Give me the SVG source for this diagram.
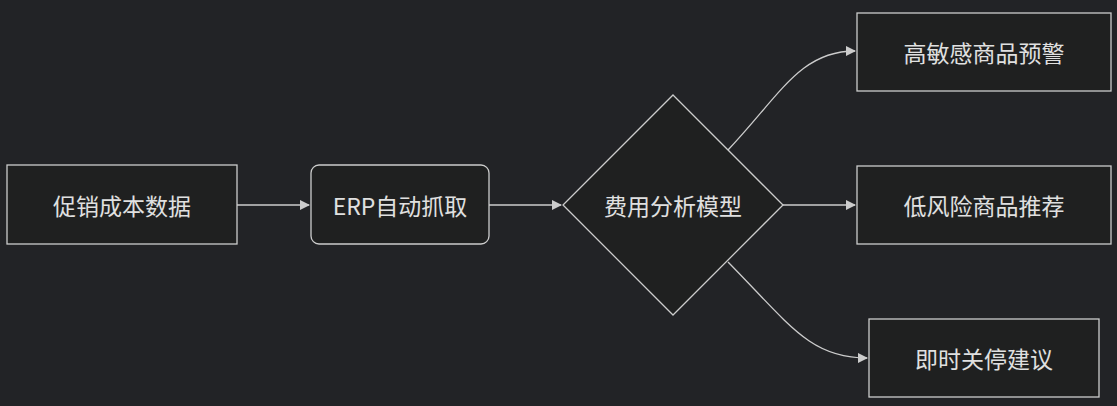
<svg xmlns="http://www.w3.org/2000/svg" width="1117" height="406" viewBox="0 0 1117 406">
<style>
.n{fill:#1f2020;stroke:#cccccc;stroke-width:1.3}
.t{fill:#e0e0e0;font-family:"Noto Sans CJK SC","Liberation Sans",sans-serif;font-size:23px;text-anchor:middle;dominant-baseline:central}
.e{fill:none;stroke:#cccccc;stroke-width:1.3}
</style>
<defs><marker id="a" viewBox="0 0 10 10" refX="9" refY="5" markerWidth="8" markerHeight="8" orient="auto"><path d="M0,0L10,5L0,10z" fill="#cccccc"/></marker></defs>
<rect width="1117" height="406" fill="#222326"/>
<g id="edges">
<path class="e" d="M237,205H309" marker-end="url(#a)"/>
<path class="e" d="M489,205H561" marker-end="url(#a)"/>
<path class="e" d="M728,150C780,95 800,51 855,51" marker-end="url(#a)"/>
<path class="e" d="M783,205C820,205 830,205 855,205" marker-end="url(#a)"/>
<path class="e" d="M728,262C790,325 810,358 867,358" marker-end="url(#a)"/>
</g>
<g id="n1"><rect class="n" x="7" y="165" width="230" height="79"/><text class="t" x="122" y="205">促销成本数据</text></g>
<g id="n2"><rect class="n" x="311" y="165" width="178" height="79" rx="8"/><text class="t" x="400" y="205">ERP自动抓取</text></g>
<g id="n3"><polygon class="n" points="673,95 783,205 673,315 563,205"/><text class="t" x="673" y="205">费用分析模型</text></g>
<g id="n4"><rect class="n" x="857" y="13" width="254" height="78"/><text class="t" x="984" y="52">高敏感商品预警</text></g>
<g id="n5"><rect class="n" x="857" y="166" width="254" height="78"/><text class="t" x="984" y="205">低风险商品推荐</text></g>
<g id="n6"><rect class="n" x="869" y="319" width="230" height="78"/><text class="t" x="984" y="358">即时关停建议</text></g>
</svg>
